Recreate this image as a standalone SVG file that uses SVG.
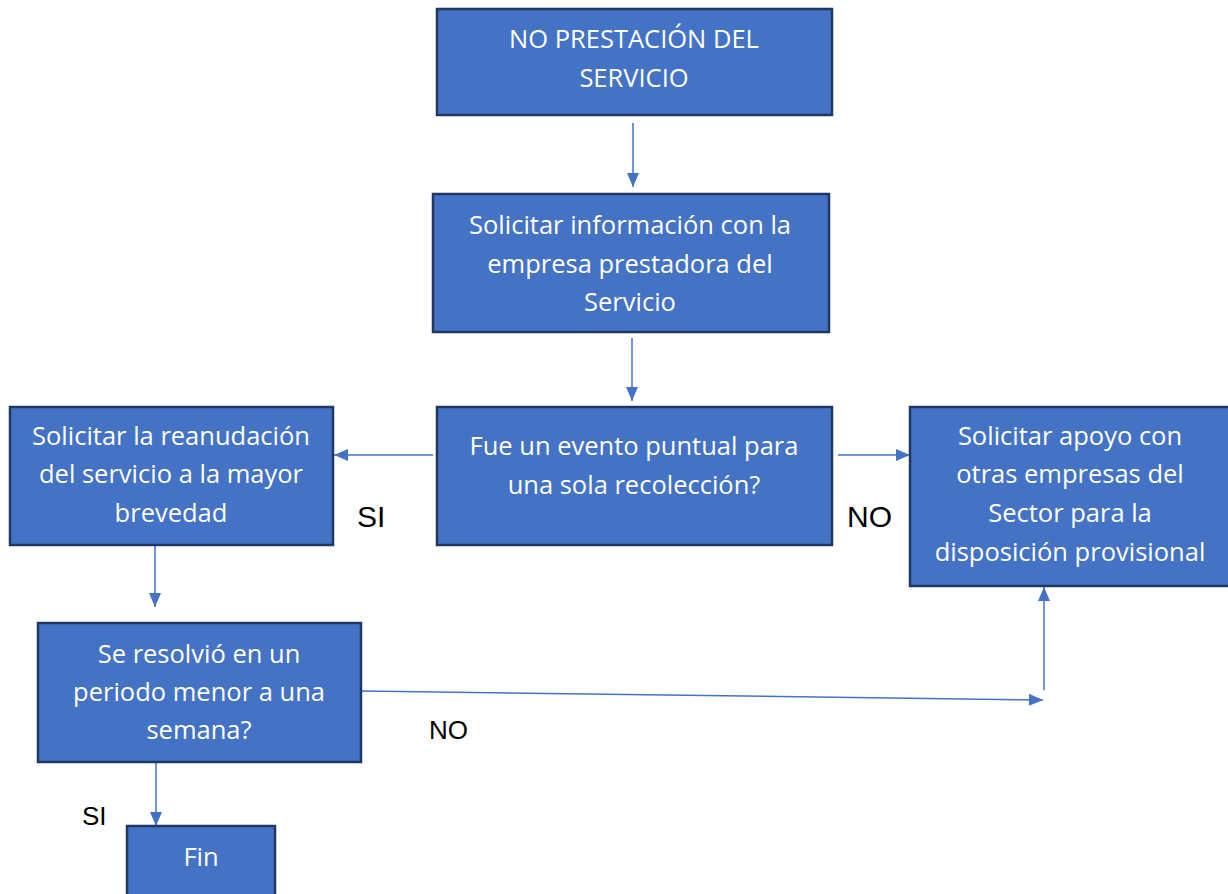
<svg xmlns="http://www.w3.org/2000/svg" width="1228" height="894" viewBox="0 0 1228 894">
<style>
.box{fill:#4472c4;stroke:#1f3864;stroke-width:2.5}
.t{font-family:"Open Sans","Noto Sans",sans-serif;font-size:25.5px;fill:#ffffff;text-anchor:middle}
.lbl{font-family:"Liberation Sans",Arial,sans-serif;font-size:26px;fill:#000000}
.lbl2{font-family:"Liberation Sans",Arial,sans-serif;font-size:30px;fill:#000000}
.c{fill:none;stroke:#4472c4;stroke-width:1.5}
</style>
<defs>
<marker id="ah" viewBox="0 0 14 12" refX="14" refY="6" markerWidth="14" markerHeight="12" markerUnits="userSpaceOnUse" orient="auto">
<path d="M0,0 L14,6 L0,12 Z" fill="#4472c4"/>
</marker>
</defs>
<rect width="1228" height="894" fill="#ffffff"/>
<g id="connectors">
<line class="c" x1="633" y1="123" x2="633" y2="187" marker-end="url(#ah)"/>
<line class="c" x1="632" y1="338" x2="632" y2="401" marker-end="url(#ah)"/>
<line class="c" x1="433" y1="455" x2="334" y2="455" marker-end="url(#ah)"/>
<line class="c" x1="838" y1="455" x2="910" y2="455" marker-end="url(#ah)"/>
<line class="c" x1="155" y1="545" x2="155" y2="607" marker-end="url(#ah)"/>
<line class="c" x1="156" y1="762" x2="156" y2="826" marker-end="url(#ah)"/>
<line class="c" x1="362" y1="691" x2="1043" y2="700" marker-end="url(#ah)"/>
<line class="c" x1="1044" y1="690" x2="1044" y2="587" marker-end="url(#ah)"/>
</g>
<g id="n1">
<rect class="box" x="437" y="9" width="395" height="106"/>
<text class="t" x="634" y="48">NO PRESTACIÓN DEL</text>
<text class="t" x="634" y="87">SERVICIO</text>
</g>
<g id="n2">
<rect class="box" x="433" y="194" width="396" height="138"/>
<text class="t" x="630" y="234">Solicitar información con la</text>
<text class="t" x="630" y="273">empresa prestadora del</text>
<text class="t" x="630" y="311">Servicio</text>
</g>
<g id="n3">
<rect class="box" x="437" y="407" width="395" height="138"/>
<text class="t" x="634" y="455">Fue un evento puntual para</text>
<text class="t" x="634" y="494">una sola recolección?</text>
</g>
<g id="n4">
<rect class="box" x="10" y="407" width="323" height="138"/>
<text class="t" x="171" y="445">Solicitar la reanudación</text>
<text class="t" x="171" y="483">del servicio a la mayor</text>
<text class="t" x="171" y="522">brevedad</text>
</g>
<g id="n5">
<rect class="box" x="910" y="407" width="320" height="179"/>
<text class="t" x="1070" y="445">Solicitar apoyo con</text>
<text class="t" x="1070" y="483">otras empresas del</text>
<text class="t" x="1070" y="522">Sector para la</text>
<text class="t" x="1070" y="561">disposición provisional</text>
</g>
<g id="n6">
<rect class="box" x="38" y="623" width="323" height="139"/>
<text class="t" x="199" y="663">Se resolvió en un</text>
<text class="t" x="199" y="701">periodo menor a una</text>
<text class="t" x="199" y="739">semana?</text>
</g>
<g id="n7">
<rect class="box" x="127" y="826" width="148" height="80"/>
<text class="t" x="201" y="866">Fin</text>
</g>
<g id="labels">
<text class="lbl2" x="357" y="527">SI</text>
<text class="lbl2" x="847" y="527">NO</text>
<text class="lbl" x="429" y="739">NO</text>
<text class="lbl" x="82" y="825">SI</text>
</g>
</svg>
